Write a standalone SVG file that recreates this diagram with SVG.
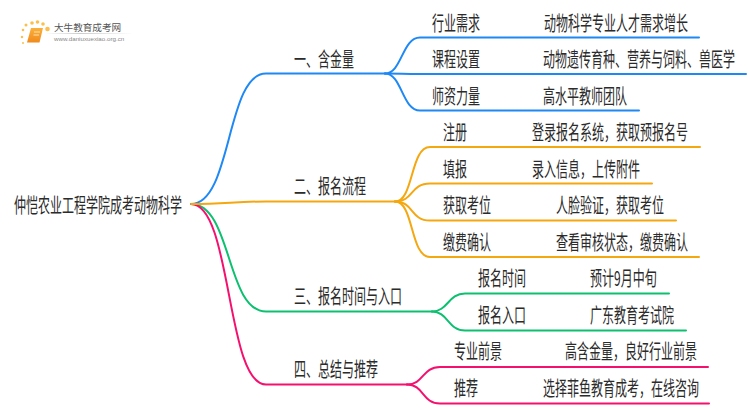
<svg xmlns="http://www.w3.org/2000/svg" width="750" height="410" viewBox="0 0 750 410">
<defs>
<linearGradient id="fade" x1="0" x2="1" y1="0" y2="0"><stop offset="0" stop-color="#ccc" stop-opacity="0"/><stop offset=".4" stop-color="#ccc"/><stop offset="1" stop-color="#ccc" stop-opacity="0"/></linearGradient>
<linearGradient id="book" x1="0" x2="0" y1="0" y2="1"><stop offset="0" stop-color="#fbb03b"/><stop offset="1" stop-color="#f08a1d"/></linearGradient>
</defs>
<style>
text{font-family:"Noto Sans CJK SC","Noto Sans",sans-serif;font-size:20px;fill:#2b2b2b}
.c{fill:none;stroke-width:2;stroke-linecap:round}
.b{stroke:#1e88f5}.o{stroke:#f5a70f}.g{stroke:#0cc070}.p{stroke:#f5106e}
.d{fill:#fbbf4a}
</style>
<rect width="750" height="410" fill="#fff"/>
<g id="connectors">
<path class="c g" d="M191,204C232,204 226,311.500 266,311.500H432"/>
<path class="c p" d="M191,204C232,204 226,384.500 266,384.500H407"/>
<path class="c b" d="M191,204C232,204 226,73.500 266,73.500H385"/>
<path class="c o" d="M191,204C225,204 235,201.500 266,201.500H395"/>
<path class="c b" d="M385,73.500C402,73.500 402,37.500 420,37.500H699"/>
<path class="c b" d="M385,73.500C402,73.500 402,74 420,74H746"/>
<path class="c b" d="M385,73.500C402,73.500 402,110.500 420,110.500H639"/>
<path class="c o" d="M395,201.500C414,201.500 410,147 430,147H700"/>
<path class="c o" d="M395,201.500C414,201.500 410,183.500 430,183.500H652"/>
<path class="c o" d="M395,201.500C414,201.500 410,220.500 430,220.500H676"/>
<path class="c o" d="M395,201.500C414,201.500 410,257 430,257H699"/>
<path class="c g" d="M432,311.500C448,311.500 448,293.500 465,293.500H669"/>
<path class="c g" d="M432,311.500C448,311.500 448,330.500 465,330.500H686"/>
<path class="c p" d="M407,384.500C424,384.500 422,367 440,367H708"/>
<path class="c p" d="M407,384.500C424,384.500 422,403.500 440,403.500H709"/>
</g>
<g id="logo">
<circle class="d" cx="47.500" cy="29" r="2.300"/><circle class="d" cx="43" cy="24" r="1.800"/><circle class="d" cx="37.500" cy="22" r="1.800"/>
<circle class="d" cx="32" cy="23" r="1.800"/><circle class="d" cx="26" cy="25" r="1.500"/><circle class="d" cx="23" cy="30" r="1.300"/><circle class="d" cx="22" cy="37" r="1.200"/><circle class="d" cx="23" cy="43" r="1"/>
<path d="M31,28H43L39.500,42.500H27Z" fill="url(#book)"/>
<path d="M34,32H40M33.500,35H39" stroke="#fde2b0" stroke-width="1"/>
<text transform="translate(54 31)" style="font-size:9.600px;fill:#555">大牛教育成考网</text>
<rect x="45" y="33" width="88" height="1" fill="url(#fade)"/>
<text x="54" y="41" style="font-family:'Liberation Sans',sans-serif;font-size:6.200px;fill:#888">www.daniuxuexiao.org.cn</text>
</g>
<g id="root"><text transform="translate(14 213) scale(.6 1)">仲恺农业工程学院成考动物科学</text></g>
<g id="n1"><text transform="translate(294 67) scale(.6 1)">一、含金量</text></g>
<g id="n1a"><text transform="translate(432 30.500) scale(.6 1)">行业需求</text><text transform="translate(544 30.500) scale(.6 1)">动物科学专业人才需求增长</text></g>
<g id="n1b"><text transform="translate(432 67) scale(.6 1)">课程设置</text><text transform="translate(543 67) scale(.6 1)">动物遗传育种、营养与饲料、兽医学</text></g>
<g id="n1c"><text transform="translate(432 103.500) scale(.6 1)">师资力量</text><text transform="translate(543 103.500) scale(.6 1)">高水平教师团队</text></g>
<g id="n2"><text transform="translate(294 194) scale(.6 1)">二、报名流程</text></g>
<g id="n2a"><text transform="translate(443 140) scale(.6 1)">注册</text><text transform="translate(532 140) scale(.6 1)">登录报名系统，获取预报名号</text></g>
<g id="n2b"><text transform="translate(443 176.500) scale(.6 1)">填报</text><text transform="translate(532 176.500) scale(.6 1)">录入信息，上传附件</text></g>
<g id="n2c"><text transform="translate(443 213) scale(.6 1)">获取考位</text><text transform="translate(556 213) scale(.6 1)">人脸验证，获取考位</text></g>
<g id="n2d"><text transform="translate(443 249.500) scale(.6 1)">缴费确认</text><text transform="translate(556 249.500) scale(.6 1)">查看审核状态，缴费确认</text></g>
<g id="n3"><text transform="translate(294 304) scale(.6 1)">三、报名时间与入口</text></g>
<g id="n3a"><text transform="translate(478 285.500) scale(.6 1)">报名时间</text><text transform="translate(590 285.500) scale(.6 1)">预计9月中旬</text></g>
<g id="n3b"><text transform="translate(478 322.500) scale(.6 1)">报名入口</text><text transform="translate(590 322.500) scale(.6 1)">广东教育考试院</text></g>
<g id="n4"><text transform="translate(294 376.500) scale(.6 1)">四、总结与推荐</text></g>
<g id="n4a"><text transform="translate(454 358.500) scale(.6 1)">专业前景</text><text transform="translate(565 358.500) scale(.6 1)">高含金量，良好行业前景</text></g>
<g id="n4b"><text transform="translate(454 395.500) scale(.6 1)">推荐</text><text transform="translate(543 395.500) scale(.6 1)">选择菲鱼教育成考，在线咨询</text></g>
</svg>
